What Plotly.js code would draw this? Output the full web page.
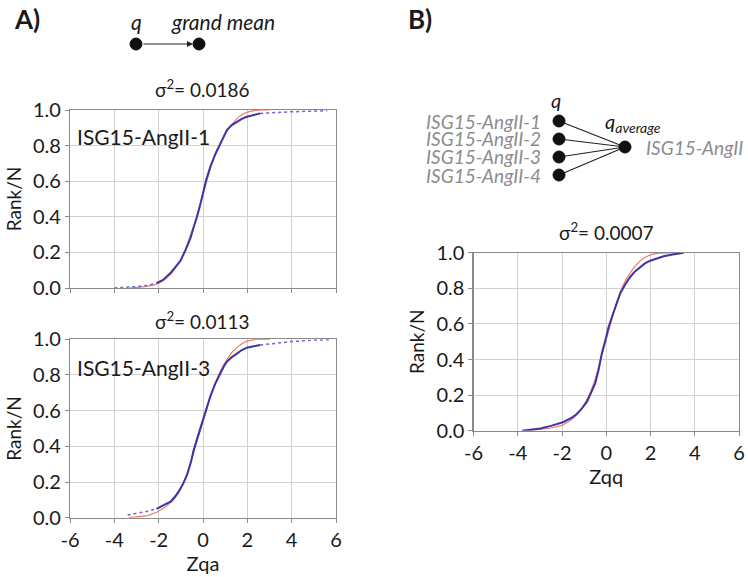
<!DOCTYPE html>
<html>
<head>
<meta charset="utf-8">
<script src="https://cdn.plot.ly/plotly-3.0.1.min.js"></script>
<style>html,body{margin:0;padding:0;background:#fff;}#chart{width:748px;height:577px;}</style>
</head>
<body>
<div id="chart"></div>
<script>
// ---- Data ----
// Panel A top: ISG15-AngII-1 (Zqa vs Rank/N)
const a1BlueX = [-2.1,-1.8,-1.47,-1.2,-1.02,-0.8,-0.57,-0.4,-0.27,-0.1,0,0.15,0.33,0.55,0.78,0.95,1.08,1.3,1.53,1.75,1.98,2.3,2.58];
const a1BlueY = [0.027,0.045,0.084,0.125,0.152,0.21,0.278,0.35,0.40,0.48,0.54,0.61,0.68,0.75,0.81,0.855,0.887,0.915,0.934,0.95,0.962,0.973,0.981];
const a1TailLX = [-4.0,-3.5,-3.0,-2.5,-2.1];
const a1TailLY = [0.0,0.003,0.008,0.015,0.027];
const a1TailRX = [2.58,3.2,4.0,5.0,5.6];
const a1TailRY = [0.981,0.986,0.99,0.994,0.996];
const a1RedX = [-3.3,-2.8,-2.3,-2.0,-1.7,-1.4,-1.2,-1.0,-0.8,-0.6,-0.4,-0.2,0,0.2,0.4,0.6,0.8,1.0,1.2,1.4,1.6,1.8,2.0,2.3,2.6,3.0];
const a1RedY = [0,0.005,0.015,0.025,0.05,0.085,0.12,0.16,0.215,0.28,0.355,0.44,0.53,0.62,0.70,0.77,0.825,0.87,0.905,0.935,0.96,0.978,0.988,0.996,1.0,1.0];

// Panel A bottom: ISG15-AngII-3
const a3BlueX = [-2.1,-1.8,-1.47,-1.25,-1.1,-0.9,-0.72,-0.55,-0.42,-0.2,0,0.15,0.33,0.55,0.78,0.95,1.08,1.3,1.53,1.75,1.98,2.3,2.58];
const a3BlueY = [0.05,0.07,0.09,0.12,0.146,0.19,0.24,0.31,0.38,0.47,0.548,0.61,0.68,0.75,0.81,0.85,0.875,0.9,0.92,0.94,0.953,0.962,0.968];
const a3TailLX = [-3.4,-3.0,-2.5,-2.1];
const a3TailLY = [0.015,0.024,0.036,0.05];
const a3TailRX = [2.58,3.3,4.0,5.0,5.7];
const a3TailRY = [0.968,0.978,0.987,0.995,0.999];
const a3RedX = [-3.35,-3.0,-2.5,-2.07,-1.7,-1.32,-1.1,-0.9,-0.7,-0.5,-0.3,-0.1,0.1,0.3,0.5,0.7,0.9,1.1,1.3,1.53,1.75,1.98,2.4,3.0];
const a3RedY = [0,0.004,0.012,0.032,0.06,0.1,0.14,0.19,0.25,0.33,0.41,0.5,0.58,0.665,0.74,0.8,0.85,0.89,0.925,0.955,0.975,0.99,1.0,1.0];

// Panel B: ISG15-AngII (Zqq vs Rank/N)
const bBlueX = [-3.8,-3.4,-2.98,-2.5,-1.93,-1.6,-1.33,-1.1,-0.87,-0.7,-0.5,-0.35,-0.2,0,0.1,0.26,0.45,0.63,0.85,1.09,1.3,1.54,1.75,1.99,2.3,2.59,3.0,3.5];
const bBlueY = [0,0.005,0.013,0.027,0.049,0.07,0.094,0.125,0.163,0.21,0.266,0.34,0.434,0.528,0.58,0.64,0.71,0.77,0.82,0.865,0.895,0.92,0.94,0.955,0.97,0.98,0.99,1.0];
const bRedX = [-3.5,-3.0,-2.5,-2.0,-1.7,-1.4,-1.1,-0.9,-0.7,-0.5,-0.3,-0.1,0.1,0.3,0.5,0.7,0.9,1.1,1.3,1.5,1.7,1.9,2.1,2.4,2.8,3.5];
const bRedY = [0,0.006,0.015,0.03,0.05,0.08,0.125,0.17,0.22,0.29,0.38,0.48,0.57,0.66,0.735,0.80,0.85,0.89,0.925,0.95,0.97,0.983,0.992,0.998,1.0,1.0];

const xTicks = [-6,-4,-2,0,2,4,6];
const yTicks = [0,0.2,0.4,0.6,0.8,1.0];
const sigmaA1 = "0.0186", sigmaA3 = "0.0113", sigmaB = "0.0007";
const repLabels = ["ISG15-AngII-1","ISG15-AngII-2","ISG15-AngII-3","ISG15-AngII-4"];

// ---- Styling / layout ----
const W = 748, H = 577;
const FONT = "Lato, 'Open Sans', sans-serif";
const BLUE = "#3b36a6", RED = "#f07a68", TAIL = "#6b66d0";
const px = x => x / W, py = y => 1 - y / H;

function blue(x, y, xa, ya) { return {x, y, xaxis: xa, yaxis: ya, mode: "lines", line: {color: BLUE, width: 2}, hoverinfo: "skip"}; }
function tail(x, y, xa, ya) { return {x, y, xaxis: xa, yaxis: ya, mode: "lines", line: {color: TAIL, width: 1.5, dash: "dot"}, hoverinfo: "skip"}; }
function red(x, y, xa, ya) { return {x, y, xaxis: xa, yaxis: ya, mode: "lines", line: {color: RED, width: 1.2}, hoverinfo: "skip"}; }

const traces = [
  red(a1RedX, a1RedY, "x", "y"),
  tail(a1TailLX, a1TailLY, "x", "y"), tail(a1TailRX, a1TailRY, "x", "y"),
  blue(a1BlueX, a1BlueY, "x", "y"),
  red(a3RedX, a3RedY, "x2", "y2"),
  tail(a3TailLX, a3TailLY, "x2", "y2"), tail(a3TailRX, a3TailRY, "x2", "y2"),
  blue(a3BlueX, a3BlueY, "x2", "y2"),
  red(bRedX, bRedY, "x3", "y3"),
  blue(bBlueX, bBlueY, "x3", "y3")
];

const TICKF = {family: FONT, size: 20, color: "#1a1a1a"};
function xa(d, anchor, showLabels, title) {
  return {domain: d, anchor, range: [-6, 6], tickvals: xTicks, ticktext: xTicks.map(String),
    showticklabels: showLabels, showgrid: true, gridcolor: "#d2d2d2", gridwidth: 1,
    showline: true, linecolor: "#8a8a8a", linewidth: 1.2, mirror: true,
    ticks: "outside", ticklen: 4, tickcolor: "#8a8a8a", zeroline: false,
    tickfont: TICKF,
    title: title ? {text: title, font: {family: FONT, size: 20, color: "#1a1a1a"}, standoff: 4} : {text: ""}};
}
function ya(d, anchor) {
  return {domain: d, anchor, range: [0, 1], tickvals: yTicks, ticktext: yTicks.map(v => v.toFixed(1)),
    showgrid: true, gridcolor: "#d2d2d2", gridwidth: 1,
    showline: true, linecolor: "#8a8a8a", linewidth: 1.2, mirror: true,
    ticks: "outside", ticklen: 4, tickcolor: "#8a8a8a", zeroline: false,
    tickfont: TICKF,
    title: {text: "Rank/N", font: {family: FONT, size: 19, color: "#1a1a1a"}, standoff: 6}};
}

const ann = [];
function txt(x, y, text, size, opts) {
  ann.push(Object.assign({xref: "paper", yref: "paper", x: px(x), y: py(y), text, showarrow: false,
    xanchor: "center", yanchor: "middle", font: {family: FONT, size, color: "#1a1a1a"}}, opts || {}));
}
txt(27, 19, "<b>A)</b>", 26);
txt(420, 19, "<b>B)</b>", 26);
txt(136, 36, "<i>q</i>", 21, {yanchor: "bottom"});
txt(223, 36, "<i>grand mean</i>", 21, {yanchor: "bottom"});
txt(202, 88, "σ<sup>2</sup>= " + sigmaA1, 19);
txt(202, 320, "σ<sup>2</sup>= " + sigmaA3, 19);
txt(606, 232, "σ<sup>2</sup>= " + sigmaB, 19);
txt(75, 136, "ISG15-AngII-1", 21, {xanchor: "left"});
txt(75, 368, "ISG15-AngII-3", 21, {xanchor: "left"});
// arrow q -> grand mean
ann.push({xref: "paper", yref: "paper", axref: "paper", ayref: "paper", x: px(193), y: py(44), ax: px(142), ay: py(44),
  text: "", showarrow: true, arrowhead: 2, arrowsize: 1, arrowwidth: 1.2, arrowcolor: "#222"});

// Panel B diagram
const dotsY = [121, 139, 157, 175];
const avgX = 625, avgY = 147, leftX = 559;
txt(556, 100, "<i>q</i>", 20);
txt(633, 122, "<i>q<sub>average</sub></i>", 20);
repLabels.forEach((s, i) => txt(543, dotsY[i], "<i>" + s + "</i>", 19, {xanchor: "right", font: {family: FONT, size: 19, color: "#8c8c8c"}}));
txt(644, avgY, "<i>ISG15-AngII</i>", 19, {xanchor: "left", font: {family: FONT, size: 19, color: "#8c8c8c"}});

const shapes = [];
function dot(x, y) {
  const r = 6;
  shapes.push({type: "circle", xref: "paper", yref: "paper", x0: px(x - r), x1: px(x + r), y0: py(y + r), y1: py(y - r),
    fillcolor: "#111", line: {color: "#111", width: 1}});
}
function seg(x0, y0, x1, y1) {
  shapes.push({type: "line", xref: "paper", yref: "paper", x0: px(x0), y0: py(y0), x1: px(x1), y1: py(y1), line: {color: "#222", width: 1.2}});
}
dotsY.forEach(y => seg(leftX, y, avgX, avgY));
dot(136, 44); dot(199, 44);
dotsY.forEach(y => dot(leftX, y));
dot(avgX, avgY);

const layout = {
  width: W, height: H, margin: {l: 0, r: 0, t: 0, b: 0}, showlegend: false,
  paper_bgcolor: "#fff", plot_bgcolor: "#fff", font: {family: FONT},
  xaxis: xa([px(70), px(336)], "y", false, null),
  yaxis: ya([py(288), py(110)], "x"),
  xaxis2: xa([px(70), px(336)], "y2", true, "Zqa"),
  yaxis2: ya([py(517.7), py(339.3)], "x2"),
  xaxis3: xa([px(473.5), px(739)], "y3", true, "Zqq"),
  yaxis3: ya([py(430.7), py(252.7)], "x3"),
  annotations: ann, shapes: shapes
};
Plotly.newPlot("chart", traces, layout, {staticPlot: true, displayModeBar: false});
</script>
</body>
</html>
